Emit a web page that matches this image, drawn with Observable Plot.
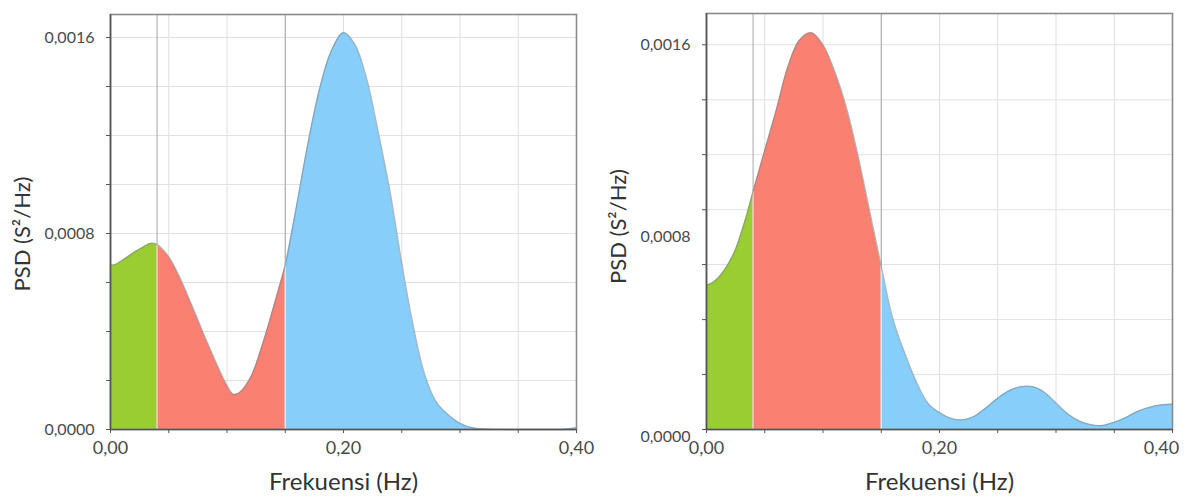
<!DOCTYPE html>
<html>
<head>
<meta charset="utf-8">
<script src="https://cdn.jsdelivr.net/npm/d3@7"></script>
<script src="https://cdn.jsdelivr.net/npm/@observablehq/plot@0.6"></script>
<style>
  html, body { margin: 0; padding: 0; background: #fff; }
  #wrap { display: flex; width: 1188px; height: 497px; overflow: hidden; }
  #wrap > div { width: 594px; height: 497px; }
</style>
</head>
<body>
<div id="wrap"><div id="left"></div><div id="right"></div></div>
<script>
// ---- data ----
const freqLeft = [0, 0.005, 0.01, 0.02, 0.03, 0.035, 0.04, 0.05, 0.06, 0.07, 0.08, 0.09, 0.10, 0.105, 0.11, 0.12, 0.13, 0.14, 0.15,
  0.16, 0.17, 0.18, 0.19, 0.20, 0.21, 0.22, 0.23, 0.24, 0.25, 0.26, 0.27, 0.28, 0.29, 0.30, 0.31, 0.32, 0.34, 0.36, 0.38, 0.39, 0.40];
const psdLeft = [0.00067, 0.000675, 0.00069, 0.000722, 0.00075, 0.00076, 0.000755, 0.000705, 0.000615, 0.000505, 0.00039, 0.00028, 0.00018, 0.000145, 0.000148, 0.00021, 0.00034, 0.0005, 0.00067,
  0.00092, 0.00118, 0.0014, 0.00155, 0.00162, 0.00157, 0.00143, 0.00121, 0.00097, 0.00068, 0.00042, 0.00022, 0.00011, 0.00006, 0.000025, 0.000008, 0.000002, 0, 0, 0, 0.000001, 0.000008];

const freqRight = [0, 0.005, 0.01, 0.015, 0.02, 0.025, 0.03, 0.035, 0.04, 0.05, 0.06, 0.07, 0.08, 0.09, 0.10, 0.11, 0.12, 0.13, 0.14, 0.15,
  0.16, 0.17, 0.18, 0.19, 0.20, 0.21, 0.22, 0.23, 0.24, 0.25, 0.26, 0.27, 0.28, 0.29, 0.30, 0.31, 0.32, 0.33, 0.34, 0.35, 0.36, 0.37, 0.38, 0.39, 0.40];
const psdRight = [0.0006, 0.00061, 0.00063, 0.00066, 0.0007, 0.00075, 0.00082, 0.0009, 0.00099, 0.00116, 0.00133, 0.00151, 0.00162, 0.00165, 0.0016, 0.00149, 0.00134, 0.00114, 0.00091, 0.00068,
  0.00046, 0.00032, 0.0002, 0.00011, 0.00007, 0.000046, 0.00004, 0.000055, 0.00009, 0.00013, 0.000162, 0.000178, 0.000178, 0.000155, 0.00011, 0.000065, 0.000035, 0.00002, 0.000017, 0.00003, 0.00005, 0.000075, 0.000092, 0.000102, 0.000105];

const bandEdges = [0.04, 0.15];
const bandColors = ["#9acd32", "#fa8072", "#87cefa"];
const xTickValues = [0, 0.05, 0.10, 0.15, 0.20, 0.25, 0.30, 0.35, 0.40];
const xLabelValues = [0, 0.20, 0.40];
const yTicksLeft = [0, 0.0002, 0.0004, 0.0006, 0.0008, 0.0010, 0.0012, 0.0014, 0.0016];
const yTicksRight = [0, 0.000229, 0.000457, 0.000686, 0.000914, 0.001143, 0.001371, 0.0016];
const yLabelValues = [0, 0.0008, 0.0016];
const xTitle = "Frekuensi (Hz)";
const yTitle = "PSD (S²/Hz)";

const fmtY = d => d.toFixed(4).replace(".", ",");
const fmtX = d => d.toFixed(2).replace(".", ",");

function chart({freq, psd, yTop, yTicks, marginLeft, marginRight, marginTop, zeroDy, titleDx, titleDy, lastDx}) {
  const data = freq.map((f, i) => ({f, p: psd[i]}));
  const bands = [
    data.filter(d => d.f <= bandEdges[0] + 1e-9),
    data.filter(d => d.f >= bandEdges[0] - 1e-9 && d.f <= bandEdges[1] + 1e-9),
    data.filter(d => d.f >= bandEdges[1] - 1e-9)
  ];
  const edgeData = data.filter(d => bandEdges.some(e => Math.abs(e - d.f) < 1e-9));
  const curve = "catmull-rom";
  const areaMarks = bands.map((b, i) => Plot.areaY(b, {x: "f", y1: 0, y2: "p", fill: bandColors[i], fillOpacity: 1, curve}));
  const lastX = xLabelValues[xLabelValues.length - 1];
  return Plot.plot({
    width: 594, height: 497,
    marginLeft, marginRight, marginTop, marginBottom: 68,
    x: {domain: [0, 0.4], axis: null},
    y: {domain: [0, yTop], axis: null},
    style: {fontFamily: "Lato, 'Open Sans', sans-serif", background: "transparent", overflow: "visible"},
    marks: [
      Plot.gridX(xTickValues, {stroke: "#dedede", strokeOpacity: 1}),
      Plot.gridY(yTicks, {stroke: "#e2e2e2", strokeOpacity: 1}),
      Plot.ruleX(bandEdges, {stroke: "#a6a6a6", strokeWidth: 1}),
      areaMarks[0],
      areaMarks[1],
      areaMarks[2],
      Plot.ruleX(edgeData, {x: "f", y1: 0, y2: "p", stroke: "white", strokeOpacity: 0.65, strokeWidth: 1.2}),
      Plot.lineY(data, {x: "f", y: "p", stroke: "#7d8a94", strokeOpacity: 0.6, strokeWidth: 1.3, curve}),
      Plot.frame({stroke: "#8a8a8a", strokeWidth: 1.6}),
      Plot.ruleY([0], {stroke: "#555", strokeWidth: 1.6}),
      Plot.ruleX([0], {stroke: "#555", strokeWidth: 1.6}),
      Plot.axisX(xTickValues, {tickSize: 4, tickFormat: () => "", label: null, stroke: "#555"}),
      Plot.axisY(yTicks, {tickSize: 4, tickFormat: () => "", label: null, stroke: "#555"}),
      Plot.text(xLabelValues.filter(d => d !== lastX), {x: d => d, frameAnchor: "bottom", dy: 24, text: fmtX, fontSize: 18, fill: "#4a4a4a"}),
      Plot.text([lastX], {x: d => d, frameAnchor: "bottom", dy: 24, dx: lastDx, text: fmtX, fontSize: 18, fill: "#4a4a4a"}),
      Plot.text(yLabelValues.filter(d => d !== 0), {y: d => d, frameAnchor: "left", dx: -16, textAnchor: "end", text: fmtY, fontSize: 16, fill: "#4a4a4a"}),
      Plot.text(yLabelValues.filter(d => d === 0), {y: d => d, frameAnchor: "left", dx: -16, dy: zeroDy, textAnchor: "end", text: fmtY, fontSize: 16, fill: "#4a4a4a"}),
      Plot.text([xTitle], {frameAnchor: "bottom", dy: 60, fontSize: 24, fill: "#333"}),
      Plot.text([yTitle], {frameAnchor: "left", textAnchor: "middle", dx: titleDx - marginLeft, dy: titleDy, rotate: -90, fontSize: 22, fill: "#333"})
    ]
  });
}

document.getElementById("left").append(chart({
  freq: freqLeft, psd: psdLeft, yTop: 0.001694, yTicks: yTicksLeft,
  marginLeft: 110, marginRight: 18, marginTop: 14, zeroDy: 0, titleDx: 22, titleDy: 12, lastDx: 0
}));
document.getElementById("right").append(chart({
  freq: freqRight, psd: psdRight, yTop: 0.00173, yTicks: yTicksRight,
  marginLeft: 112, marginRight: 16, marginTop: 13, zeroDy: 7, titleDx: 24, titleDy: 5, lastDx: -11
}));
</script>
</body>
</html>
